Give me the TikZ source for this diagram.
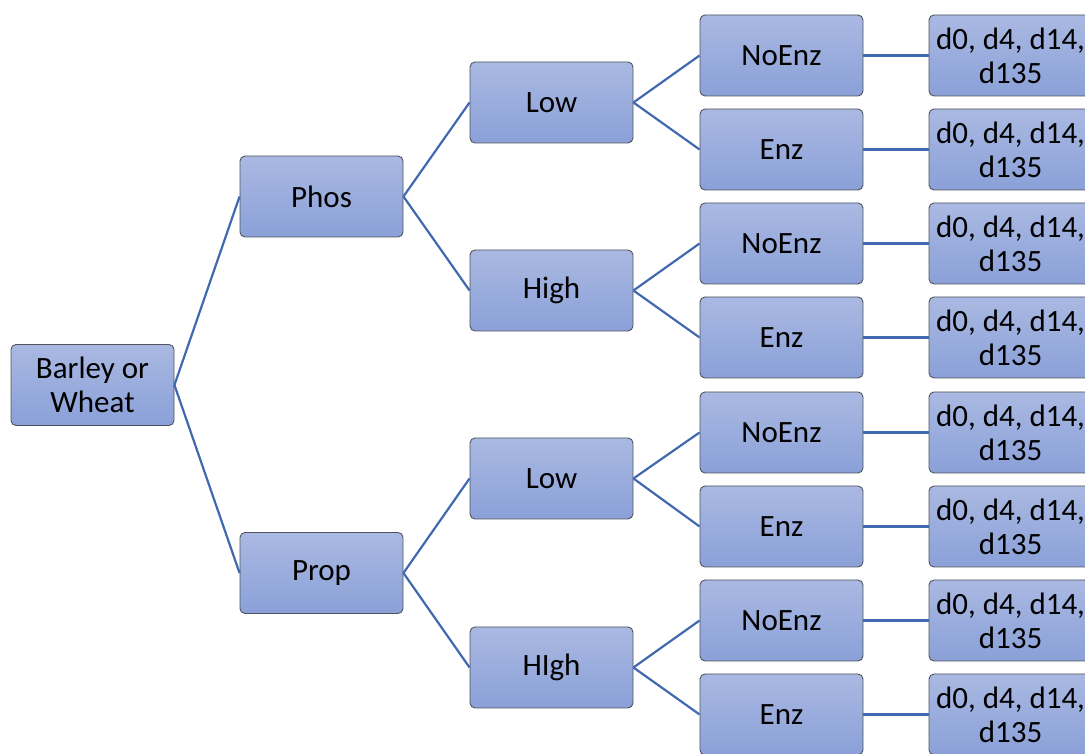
\documentclass[tikz,border=0pt]{standalone}
\usepackage{fontspec}
\setmainfont{Carlito}
\definecolor{topc}{HTML}{AAB9E2}
\definecolor{botc}{HTML}{8AA0D8}
\definecolor{edgec}{HTML}{50535E}
\definecolor{linec}{HTML}{4169B0}
\tikzset{
  box/.style={draw=edgec, line width=0.9pt, rounded corners=5pt, top color=topc, bottom color=botc,
    minimum width=163pt, minimum height=81pt, inner sep=0pt, align=center,
    font=\fontsize{31}{34}\selectfont, text=black},
  conn/.style={draw=linec, line width=2.2pt}
}
\begin{document}
\begin{tikzpicture}[x=1pt,y=1pt]
\useasboundingbox (0,0) rectangle (1085,754);
\clip (0,0) rectangle (1085,754);
% level 0
\node[box] (root) at (92.5,369) {Barley or\\Wheat};
% level 1
\node[box] (phos) at (321.5,557.5) {Phos};
\node[box] (prop) at (321.5,181) {Prop};
% level 2
\node[box] (l1) at (551.5,651.5) {Low};
\node[box] (h1) at (551.5,463.5) {High};
\node[box] (l2) at (551.5,275.5) {Low};
\node[box] (h2) at (551.5,86.5) {HIgh};
% level 3
\node[box] (e1) at (781.5,698.5) {NoEnz};
\node[box] (e2) at (781.5,604.5) {Enz};
\node[box] (e3) at (781.5,510.5) {NoEnz};
\node[box] (e4) at (781.5,416.5) {Enz};
\node[box] (e5) at (781.5,321.5) {NoEnz};
\node[box] (e6) at (781.5,227.5) {Enz};
\node[box] (e7) at (781.5,133.5) {NoEnz};
\node[box] (e8) at (781.5,39.5) {Enz};
% level 4
\foreach \i/\y in {1/698.5,2/604.5,3/510.5,4/416.5,5/321.5,6/227.5,7/133.5,8/39.5}{
  \node[box] (d\i) at (1010.5,\y) {d0, d4, d14,\\d135};
}
% connectors
\draw[conn] (root.east) -- (phos.west);
\draw[conn] (root.east) -- (prop.west);
\draw[conn] (phos.east) -- (l1.west);
\draw[conn] (phos.east) -- (h1.west);
\draw[conn] (prop.east) -- (l2.west);
\draw[conn] (prop.east) -- (h2.west);
\draw[conn] (l1.east) -- (e1.west);
\draw[conn] (l1.east) -- (e2.west);
\draw[conn] (h1.east) -- (e3.west);
\draw[conn] (h1.east) -- (e4.west);
\draw[conn] (l2.east) -- (e5.west);
\draw[conn] (l2.east) -- (e6.west);
\draw[conn] (h2.east) -- (e7.west);
\draw[conn] (h2.east) -- (e8.west);
\foreach \i in {1,...,8}{
  \draw[conn] (e\i.east) -- (d\i.west);
}
\end{tikzpicture}
\end{document}
